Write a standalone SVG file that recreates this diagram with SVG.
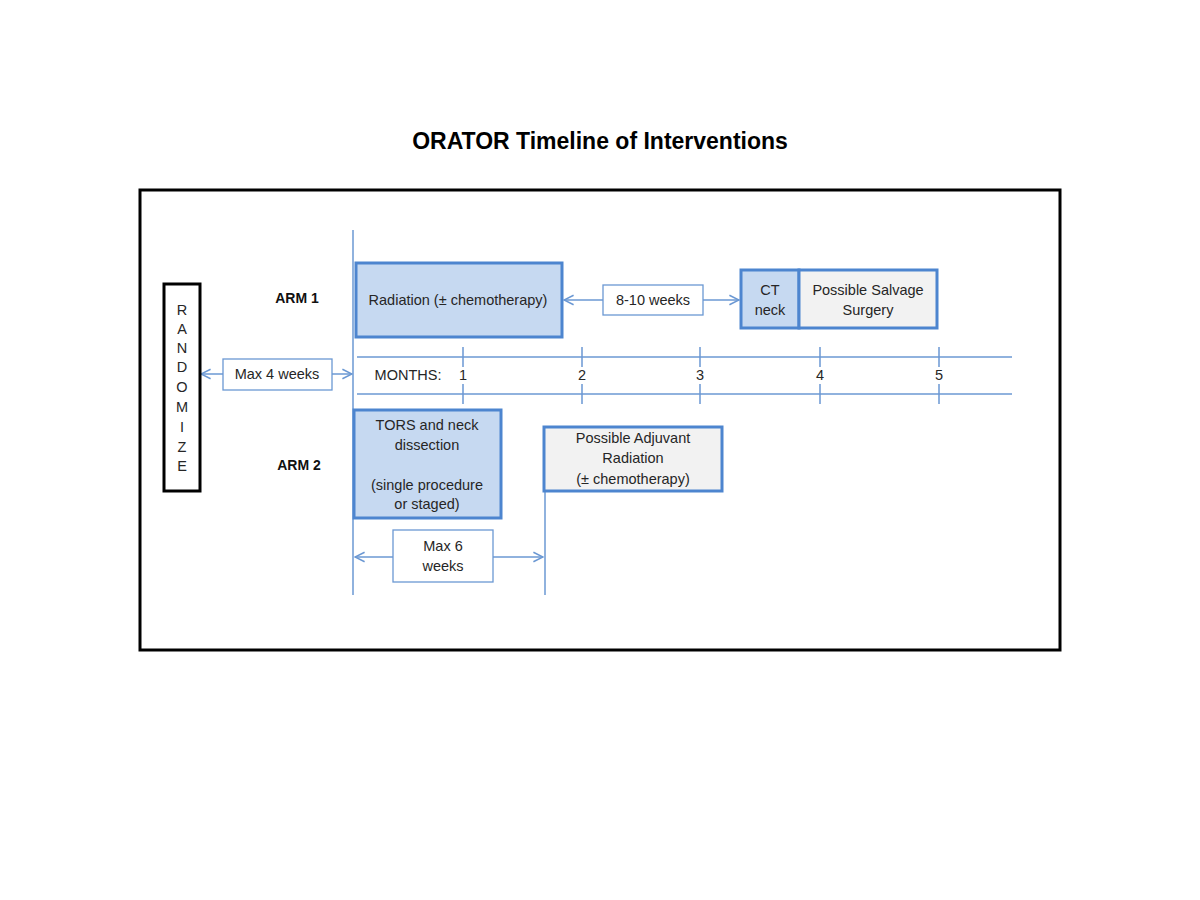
<svg xmlns="http://www.w3.org/2000/svg" width="1200" height="900" viewBox="0 0 1200 900">
<style>
text{font-family:"Liberation Sans",Arial,sans-serif;font-size:14.5px;fill:#262626;text-anchor:middle}
.title{font-size:23px;font-weight:bold;fill:#000}
.arm{font-weight:bold;font-size:14px;fill:#111}
.ln{stroke:#6b98d3;stroke-width:1.5;fill:none}
.box{fill:#fff;stroke:#6b98d3;stroke-width:1.3}
.blue{fill:#c6d9f1;stroke:#4d85cf;stroke-width:3}
.grey{fill:#f2f2f2;stroke:#4d85cf;stroke-width:3}
</style>
<defs>
<marker id="ah" viewBox="0 0 10 10" refX="9" refY="5" markerWidth="12" markerHeight="12" markerUnits="userSpaceOnUse" orient="auto">
<path d="M1,1 L9,5 L1,9" fill="none" stroke="#6b98d3" stroke-width="1.3"/>
</marker>
</defs>
<rect width="1200" height="900" fill="#fff"/>
<text class="title" x="600" y="149">ORATOR Timeline of Interventions</text>
<rect x="140" y="190" width="920" height="460" fill="none" stroke="#000" stroke-width="3"/>
<g id="connectors">
<line class="ln" x1="353" y1="230" x2="353" y2="595"/>
<line class="ln" x1="545" y1="490" x2="545" y2="595"/>
<line class="ln" x1="357" y1="357" x2="1012" y2="357"/>
<line class="ln" x1="357" y1="394" x2="1012" y2="394"/>
<path class="ln" d="M463,347V367M463,384V404M582,347V367M582,384V404M700,347V367M700,384V404M820,347V367M820,384V404M939,347V367M939,384V404"/>
<line class="ln" x1="223" y1="374" x2="201" y2="374" marker-end="url(#ah)"/>
<line class="ln" x1="332" y1="374" x2="352" y2="374" marker-end="url(#ah)"/>
<line class="ln" x1="603" y1="300" x2="564" y2="300" marker-end="url(#ah)"/>
<line class="ln" x1="703" y1="300" x2="739" y2="300" marker-end="url(#ah)"/>
<line class="ln" x1="393" y1="557" x2="355" y2="557" marker-end="url(#ah)"/>
<line class="ln" x1="493" y1="557" x2="543" y2="557" marker-end="url(#ah)"/>
</g>
<g id="randomize">
<rect x="164" y="284" width="36" height="207" fill="#fff" stroke="#000" stroke-width="3"/>
<text x="182" y="315">R</text><text x="182" y="334">A</text><text x="182" y="353">N</text><text x="182" y="372">D</text><text x="182" y="392">O</text><text x="182" y="412">M</text><text x="182" y="432">I</text><text x="182" y="452">Z</text><text x="182" y="471">E</text>
</g>
<g id="arm1"><text class="arm" x="297" y="303">ARM 1</text></g>
<g id="arm2"><text class="arm" x="299" y="470">ARM 2</text></g>
<g id="max4"><rect class="box" x="223" y="359" width="109" height="31"/><text x="277" y="379">Max 4 weeks</text></g>
<g id="radiation"><rect class="blue" x="356" y="263" width="206" height="74"/><text x="458" y="305">Radiation (± chemotherapy)</text></g>
<g id="w810"><rect class="box" x="603" y="285" width="100" height="30"/><text x="653" y="305">8-10 weeks</text></g>
<g id="ctneck"><rect class="blue" x="741" y="270" width="58" height="58"/><text x="770" y="295">CT</text><text x="770" y="315">neck</text></g>
<g id="salvage"><rect class="grey" x="799" y="270" width="138" height="58"/><text x="868" y="295">Possible Salvage</text><text x="868" y="315">Surgery</text></g>
<g id="months"><text x="408" y="380">MONTHS:</text><text x="463" y="380">1</text><text x="582" y="380">2</text><text x="700" y="380">3</text><text x="820" y="380">4</text><text x="939" y="380">5</text></g>
<g id="tors"><rect class="blue" x="354" y="410" width="147" height="108"/><text x="427" y="430">TORS and neck</text><text x="427" y="450">dissection</text><text x="427" y="490">(single procedure</text><text x="427" y="509">or staged)</text></g>
<g id="adjuvant"><rect class="grey" x="544" y="427" width="178" height="64"/><text x="633" y="443">Possible Adjuvant</text><text x="633" y="463">Radiation</text><text x="633" y="484">(± chemotherapy)</text></g>
<g id="max6"><rect class="box" x="393" y="530" width="100" height="52"/><text x="443" y="551">Max 6</text><text x="443" y="571">weeks</text></g>
</svg>
